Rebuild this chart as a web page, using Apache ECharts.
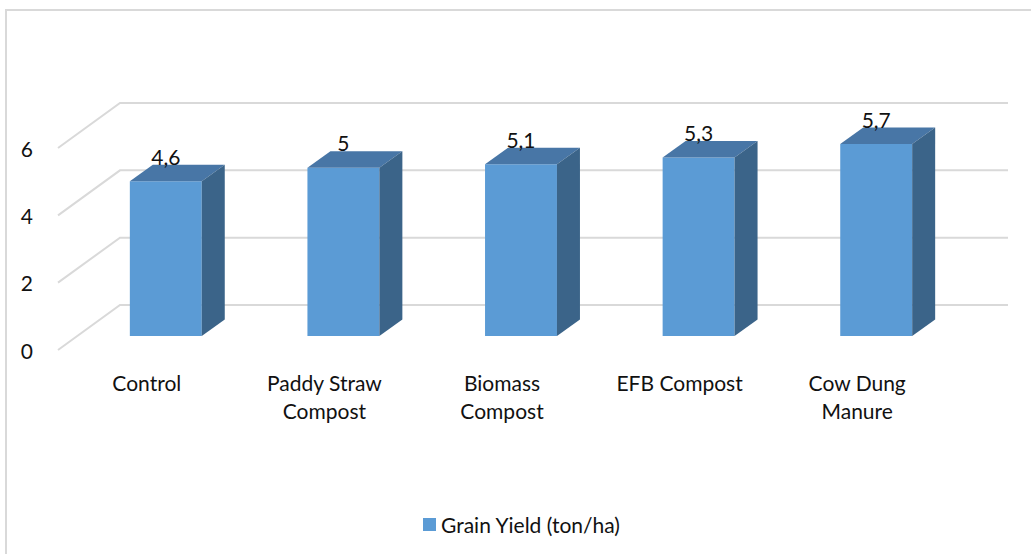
<!DOCTYPE html>
<html>
<head>
<meta charset="utf-8">
<script src="https://cdn.jsdelivr.net/npm/echarts@6/dist/echarts.min.js"></script>
<style>html,body{margin:0;padding:0;background:#fff;}#chart{width:1031px;height:554px;}</style>
</head>
<body>
<div id="chart"></div>
<script>
const categories = ['Control', 'Paddy Straw\nCompost', 'Biomass\nCompost', 'EFB Compost', 'Cow Dung\nManure'];
const grainYield = [4.6, 5, 5.1, 5.3, 5.7];
const yTicks = [0, 2, 4, 6];
const seriesName = 'Grain Yield (ton/ha)';

const FONT = 'Lato, "Noto Sans", sans-serif';
const FS = 21;
const TXT = '#111111';
// oblique depth model (pixels)
const WALL_DX = 62, WALL_DY = 45;   // front plane -> back wall
const BAR_DX = 19, BAR_DY = 14;     // front plane -> bar front face
const DEP_DX = 23, DEP_DY = 16.5;   // bar depth

const chart = echarts.init(document.getElementById('chart'), null, {renderer: 'svg'});
chart.setOption({
  animation: false,
  backgroundColor: '#ffffff',
  graphic: [{
    type: 'rect', silent: true, z: -10,
    shape: {x: 6, y: 10, width: 1100, height: 600},
    style: {fill: 'none', stroke: '#D9D9D9', lineWidth: 2}
  }],
  grid: {left: 58, right: 85, top: 148, bottom: 204},
  legend: {
    data: [seriesName],
    left: 418, top: 509,
    icon: 'rect', itemWidth: 13, itemHeight: 13, itemGap: 6,
    textStyle: {fontFamily: FONT, fontSize: FS, color: TXT}
  },
  xAxis: {
    type: 'category',
    data: categories,
    axisLine: {show: false}, axisTick: {show: false}, splitLine: {show: false},
    axisLabel: {fontFamily: FONT, fontSize: FS, color: TXT, margin: 18, lineHeight: 28, interval: 0}
  },
  yAxis: {
    type: 'value', min: 0, max: 6, interval: 2,
    axisLine: {show: false}, axisTick: {show: false}, splitLine: {show: false},
    axisLabel: {fontFamily: FONT, fontSize: FS, color: TXT, margin: 25}
  },
  series: [
    {
      type: 'custom',
      name: 'grid',
      silent: true,
      z: 1,
      data: yTicks.map(v => [0, v]),
      encode: {x: 0, y: 1},
      renderItem: function (params, api) {
        const cs = params.coordSys;
        const y = api.coord([0, api.value(1)])[1];
        return {
          type: 'polyline',
          shape: {points: [[cs.x, y], [cs.x + WALL_DX, y - WALL_DY], [cs.x + cs.width + WALL_DX, y - WALL_DY]]},
          style: {stroke: '#D9D9D9', lineWidth: 2, fill: 'none'}
        };
      }
    },
    {
      type: 'custom',
      name: seriesName,
      z: 2,
      itemStyle: {color: '#5B9BD5'},
      data: grainYield.map((v, i) => [i, v]),
      encode: {x: 0, y: 1},
      renderItem: function (params, api) {
        const base = api.coord([api.value(0), 0]);
        const top = api.coord([api.value(0), api.value(1)]);
        const band = api.size([1, 0])[0];
        const w = band * 0.405;
        const x0 = base[0] - w / 2 + BAR_DX, x1 = x0 + w;
        const yt = top[1] - BAR_DY, yb = base[1] - BAR_DY;
        const label = String(api.value(1)).replace('.', ',');
        return {
          type: 'group',
          children: [
            {type: 'rect', shape: {x: x0, y: yt, width: w, height: yb - yt}, style: {fill: '#5B9BD5'}},
            {type: 'polygon', shape: {points: [[x0, yt], [x1, yt], [x1 + DEP_DX, yt - DEP_DY], [x0 + DEP_DX, yt - DEP_DY]]}, style: {fill: '#4876A6'}},
            {type: 'polygon', shape: {points: [[x1, yt], [x1 + DEP_DX, yt - DEP_DY], [x1 + DEP_DX, yb - DEP_DY], [x1, yb]]}, style: {fill: '#3B6489'}},
            {type: 'text', z2: 10, style: {x: x0 + w / 2, y: yt - 25, text: label, align: 'center', verticalAlign: 'middle', fontFamily: FONT, fontSize: FS, fill: TXT}}
          ]
        };
      }
    }
  ]
});
</script>
</body>
</html>
